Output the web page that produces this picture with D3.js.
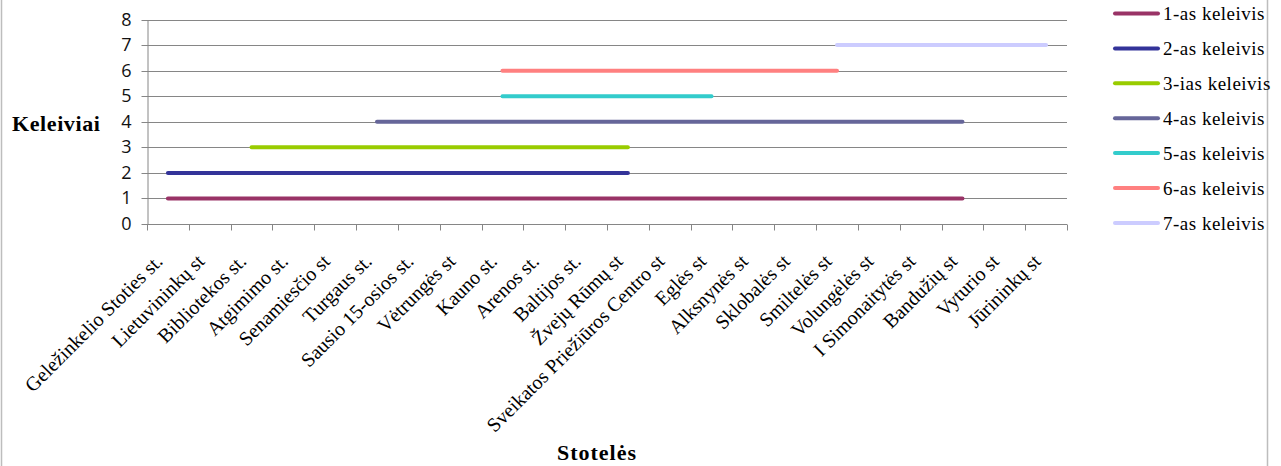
<!DOCTYPE html>
<html><head><meta charset="utf-8">
<script src="https://cdn.jsdelivr.net/npm/d3@7"></script>
<style>body{margin:0;background:#fff}svg{display:block}</style>
</head><body>
<script>
const categories = ["Geležinkelio Stoties st.","Lietuvininkų st","Bibliotekos st.","Atgimimo st.","Senamiesčio st","Turgaus st.","Sausio 15-osios st.","Vėtrungės st","Kauno st.","Arenos st.","Baltijos st.","Žvejų Rūmų st","Sveikatos Priežiūros Centro st","Eglės st","Alksnynės st","Sklobalės st","Smiltelės st","Volungėlės st","I Simonaitytės st","Bandužių st","Vyturio st","Jūrininkų st"];
const seriesNames = ["1-as keleivis","2-as keleivis","3-ias keleivis","4-as keleivis","5-as keleivis","6-as keleivis","7-as keleivis"];
const seriesValue = [1,2,3,4,5,6,7];
const seriesFrom = ["Geležinkelio Stoties st.","Geležinkelio Stoties st.","Bibliotekos st.","Turgaus st.","Kauno st.","Kauno st.","Smiltelės st"];
const seriesTo = ["Bandužių st","Žvejų Rūmų st","Žvejų Rūmų st","Bandužių st","Eglės st","Smiltelės st","Jūrininkų st"];
const colors = ["#993366","#333399","#99cc00","#666699","#33cccc","#ff8080","#ccccff"];
const yTicks = [0,1,2,3,4,5,6,7,8];

const W=1281,H=466;
const svg=d3.select("body").append("svg").attr("width",W).attr("height",H);
const L=147,R=1067,T=19.5,B=224;
const x=d3.scaleBand().domain(categories).range([L,R]);
const y=d3.scaleLinear().domain([0,8]).range([B,T]);
const cx=c=>x(c)+x.bandwidth()/2;
const serif="Liberation Serif, Times New Roman, serif";

// frame
svg.append("line").attr("x1",1.5).attr("x2",1.5).attr("y1",0).attr("y2",H).attr("stroke","#bdbdbd").attr("stroke-width",1.5);
svg.append("line").attr("x1",1267.5).attr("x2",1267.5).attr("y1",0).attr("y2",H).attr("stroke","#bdbdbd").attr("stroke-width",1.5);

// grid
svg.append("g").selectAll("line").data(yTicks.filter(d=>d>0)).join("line")
 .attr("x1",L).attr("x2",R).attr("y1",d=>Math.round(y(d))+0.5).attr("y2",d=>Math.round(y(d))+0.5)
 .attr("stroke","#868686").attr("stroke-width",1);

// y axis
const ya=svg.append("g").attr("transform",`translate(${L+0.5},0)`).call(d3.axisLeft(y).tickValues(yTicks).tickSize(6).tickSizeOuter(0).tickPadding(10));
ya.select(".domain").attr("stroke","#868686");
ya.selectAll(".tick line").attr("stroke","#868686");
ya.selectAll(".tick").attr("transform",d=>`translate(0,${Math.round(y(d))+0.5})`);
ya.selectAll("text").attr("font-family","Open Sans, Liberation Sans, sans-serif").attr("font-size",18).attr("fill","#111");

// x axis
const xa=svg.append("g").attr("transform",`translate(0,${B+0.5})`);
xa.append("line").attr("x1",L).attr("x2",R).attr("stroke","#868686");
const bounds=categories.map(c=>x(c)).concat([R]);
xa.selectAll("line.t").data(bounds).join("line").attr("class","t")
 .attr("x1",d=>Math.round(d)+0.5).attr("x2",d=>Math.round(d)+0.5).attr("y1",0).attr("y2",6).attr("stroke","#868686");
xa.selectAll("text").data(categories).join("text")
 .attr("transform",d=>`translate(${cx(d)-9},${33}) rotate(-45)`)
 .attr("text-anchor","end").attr("dy","0.35em")
 .attr("font-family",serif).attr("font-size",20).attr("fill","#000")
 .text(d=>d);

// series
const data=seriesNames.map((n,i)=>({name:n,v:seriesValue[i],pts:categories.slice(categories.indexOf(seriesFrom[i]),categories.indexOf(seriesTo[i])+1),c:colors[i]}));
const line=d3.line().x(d=>d[0]).y(d=>d[1]);
svg.append("g").selectAll("path").data(data).join("path")
 .attr("d",d=>line(d.pts.map(p=>[cx(p),y(d.v)])))
 .attr("fill","none").attr("stroke",d=>d.c).attr("stroke-width",4).attr("stroke-linecap","round");

// titles
svg.append("text").attr("x",12).attr("y",131).attr("font-family",serif)
 .attr("font-weight","bold").attr("font-size",22).attr("letter-spacing",0.6).text("Keleiviai");
svg.append("text").attr("x",597).attr("y",460).attr("text-anchor","middle").attr("font-family",serif)
 .attr("font-weight","bold").attr("font-size",22).attr("letter-spacing",1).text("Stotelės");

// legend
const lg=svg.append("g").selectAll("g").data(data).join("g").attr("transform",(d,i)=>`translate(0,${13.5+i*34.9})`);
lg.append("line").attr("x1",1115).attr("x2",1158).attr("stroke",d=>d.c).attr("stroke-width",4).attr("stroke-linecap","round");
lg.append("text").attr("x",1163).attr("y",0).attr("dy","0.35em").attr("font-family",serif)
 .attr("font-size",19).attr("letter-spacing",0.5).attr("fill","#000").text(d=>d.name);
</script>
</body></html>
